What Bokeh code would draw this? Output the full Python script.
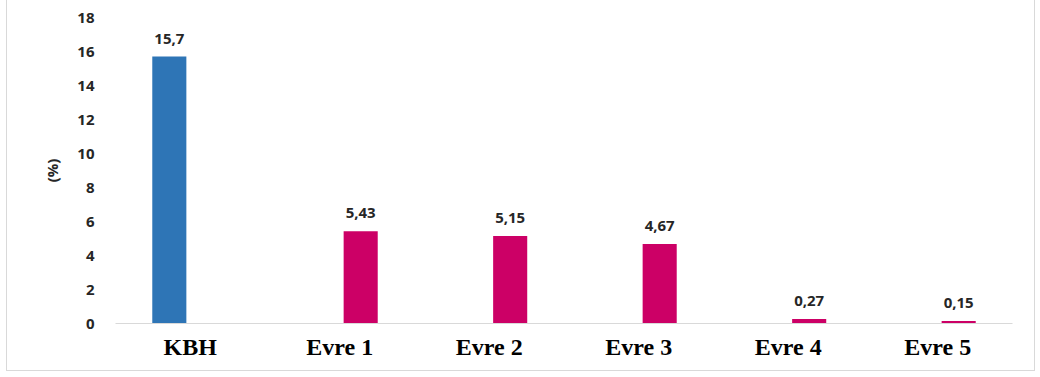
from bokeh.plotting import figure
from bokeh.models import ColumnDataSource, FactorRange, Range1d, FixedTicker, LabelSet
from bokeh.core.properties import value
from bokeh.transform import dodge
from bokeh.embed import file_html
from bokeh.resources import INLINE

# Categories and the two series (percent)
categories = ["KBH", "Evre 1", "Evre 2", "Evre 3", "Evre 4", "Evre 5"]
kbh_values = [15.7, 0, 0, 0, 0, 0]
evre_values = [0, 5.43, 5.15, 4.67, 0.27, 0.15]
y_ticks = [0, 2, 4, 6, 8, 10, 12, 14, 16, 18]

BLUE = "#2E75B6"
MAGENTA = "#CC0066"
TEXT = "#262626"
OFFSET = 0.14
BAR_W = 0.228

src = ColumnDataSource(dict(cat=categories, kbh=kbh_values, evre=evre_values))

p = figure(
    x_range=FactorRange(*categories, range_padding=0),
    y_range=Range1d(0, 18),
    width=1029, height=371,
    output_backend="svg", toolbar_location=None,
    min_border_left=108, min_border_right=24,
    min_border_top=17, min_border_bottom=48,
)
p.margin = (0, 0, 0, 6)
p.styles = {"border-left": "1px solid #d9d9d9", "border-right": "1px solid #d9d9d9",
            "border-bottom": "1px solid #d9d9d9"}
p.outline_line_color = None
p.xgrid.grid_line_color = None
p.ygrid.grid_line_color = None

p.vbar(x=dodge("cat", -OFFSET, range=p.x_range), top="kbh", width=BAR_W,
       source=src, fill_color=BLUE, line_color=None)
p.vbar(x=dodge("cat", OFFSET, range=p.x_range), top="evre", width=BAR_W,
       source=src, fill_color=MAGENTA, line_color=None)


def fmt(v):
    return f"{v:g}".replace(".", ",")


# value labels above the non-zero bars of each series
for vals, off in ((kbh_values, -OFFSET), (evre_values, OFFSET)):
    keep = [i for i, v in enumerate(vals) if v]
    s = ColumnDataSource(dict(x=[categories[i] for i in keep],
                              y=[vals[i] for i in keep],
                              t=[fmt(vals[i]) for i in keep]))
    p.add_layout(LabelSet(x=dodge("x", off, range=p.x_range), y="y", text="t", source=s,
                          text_align="center", text_baseline="bottom", y_offset=13,
                          text_font=value("Open Sans"), text_font_style="bold",
                          text_font_size="15px", text_color=TEXT))

# axes
p.yaxis.ticker = FixedTicker(ticks=y_ticks)
p.yaxis.axis_line_color = None
p.yaxis.major_tick_line_color = None
p.yaxis.minor_tick_line_color = None
p.yaxis.major_label_standoff = 15
p.yaxis.major_label_text_font = "Open Sans"
p.yaxis.major_label_text_font_style = "bold"
p.yaxis.major_label_text_font_size = "15px"
p.yaxis.major_label_text_color = TEXT
p.yaxis.axis_label = "(%)"
p.yaxis.axis_label_text_font = "Open Sans"
p.yaxis.axis_label_text_font_style = "bold"
p.yaxis.axis_label_text_font_size = "15px"
p.yaxis.axis_label_text_color = TEXT
p.yaxis.axis_label_standoff = 12

p.xaxis.axis_line_color = "#d9d9d9"
p.xaxis.major_tick_line_color = None
p.xaxis.minor_tick_line_color = None
p.xaxis.major_label_standoff = 4
p.xaxis.major_label_text_font = "'Liberation Serif', serif"
p.xaxis.major_label_text_font_style = "bold"
p.xaxis.major_label_text_font_size = "24px"
p.xaxis.major_label_text_color = "#000000"

open("out.html", "w").write(file_html(p, INLINE))
